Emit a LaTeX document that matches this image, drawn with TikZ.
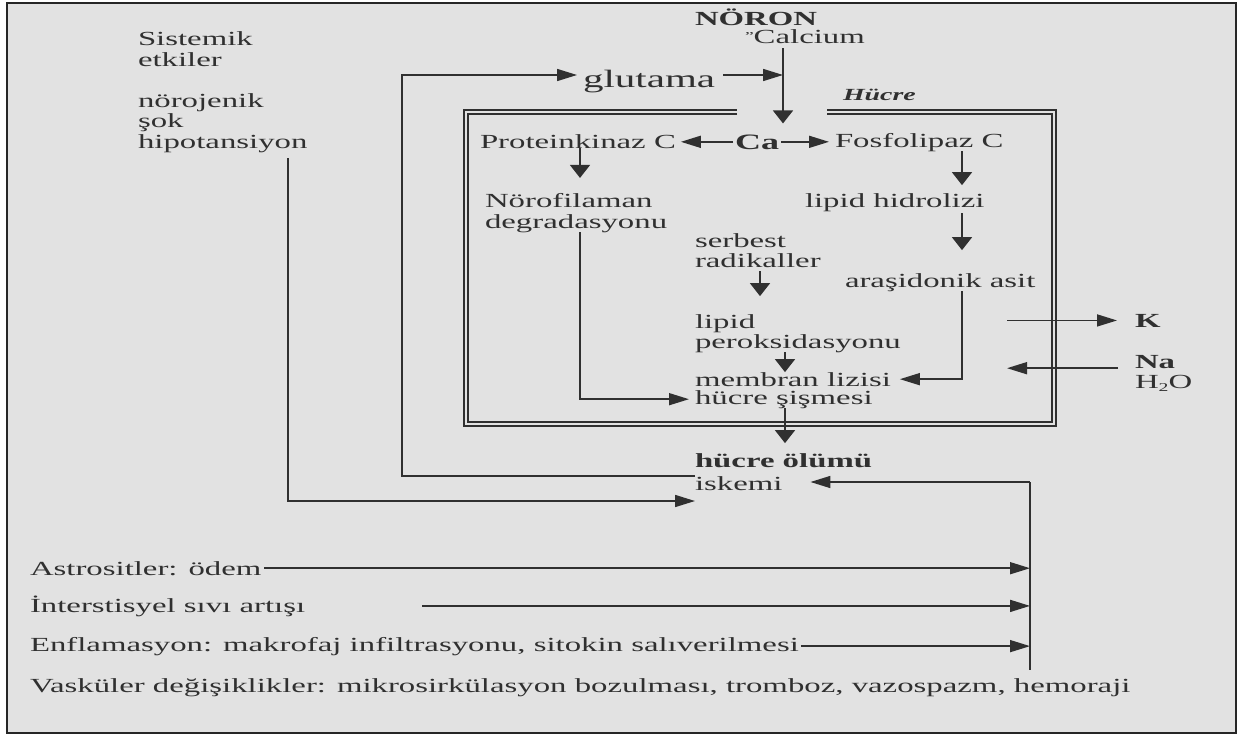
\documentclass[tikz,border=0pt]{standalone}
\usepackage{fontspec}
\setmainfont{Liberation Serif}[FakeStretch=1.64]
\usetikzlibrary{arrows.meta}
\definecolor{bg}{RGB}{226,226,226}
\definecolor{ink}{RGB}{48,48,48}
\tikzset{
  t/.style={anchor=base west, inner sep=0pt, outer sep=0pt, text=ink, font=\fontsize{20}{22}\selectfont},
  tb/.style={t, font=\fontsize{20}{22}\selectfont\bfseries},
  ln/.style={draw=ink, line width=1.6pt},
  harr/.style={ln, -{Triangle[length=20pt,width=12pt]}},
  varr/.style={ln, -{Triangle[length=13pt,width=20pt]}},
  cell/.style={draw=ink, line width=1.9pt, double=bg, double distance=2.4pt}
}
\begin{document}
\begin{tikzpicture}[x=1pt,y=-1pt]
\useasboundingbox (0,0) rectangle (1248,736);
\fill[white] (0,0) rectangle (1248,736);
\draw[line width=2pt, draw=black!85, fill=bg] (7,3) rectangle (1236,733);

% cell membrane
\draw[cell] (737,112) -- (466,112) -- (466,424) -- (1054,424) -- (1054,112) -- (827,112);

% helper coordinates
\coordinate (cj) at (783,75);
\coordinate (lp) at (402,475);
\coordinate (xa) at (580,0);
\coordinate (xb) at (962,0);
\coordinate (xc) at (760,0);
\coordinate (xd) at (785,0);
\coordinate (xh) at (288,0);
\coordinate (hy) at (0,501);
\coordinate (rv) at (1030,482);
\coordinate (rb) at (1030,670);
\coordinate (is) at (422,0);
\coordinate (ka) at (1007,0);

% left texts
\node[t] (sis) at (138,45) {Sistemik};
\node[t] (etk) at (138,66) {etkiler};
\node[t] (noj) at (138,107) {nörojenik};
\node[t] (sok) at (138,127) {şok};
\node[t] (hip) at (138,148) {hipotansiyon};

% top
\node[tb] (noron) at (695,25) {NÖRON};
\node[t] (calc) at (745,43) {\raisebox{3pt}{\fontsize{12}{12}\selectfont ”}Calcium};
\node[t, font=\fontsize{25}{27}\selectfont] (glu) at (583,87) {glutama};
\node[t, font=\fontsize{17}{19}\selectfont\bfseries\itshape] (hucre) at (843,100) {Hücre};

% inside cell
\node[t] (pkc) at (480,148) {Proteinkinaz C};
\node[t, font=\fontsize{22}{24}\selectfont\bfseries] (ca) at (735,149) {Ca};
\node[t] (fos) at (835,147) {Fosfolipaz C};
\node[t] (nof) at (485,207) {Nörofilaman};
\node[t] (deg) at (485,228) {degradasyonu};
\node[t] (lh) at (805,207) {lipid hidrolizi};
\node[t] (ser) at (695,247) {serbest};
\node[t] (rad) at (695,267) {radikaller};
\node[t] (ara) at (845,287) {araşidonik asit};
\node[t] (lip) at (695,328) {lipid};
\node[t] (per) at (695,348) {peroksidasyonu};
\node[t] (mem) at (695,386) {membran lizisi};
\node[t] (sis2) at (695,404) {hücre şişmesi};

\node[tb] (hol) at (695,467) {hücre ölümü};
\node[t] (isk) at (695,490) {iskemi};

% ions
\node[tb] (K) at (1135,327) {K};
\node[tb] (Na) at (1135,368) {Na};
\node[t] (h2o) at (1135,388) {H\raisebox{-3pt}{\fontsize{12}{12}\selectfont 2}O};

% bottom
\node[t] (ast) at (30,575) {Astrositler: ödem};
\node[t] (int) at (30,612) {İnterstisyel sıvı artışı};
\node[t] (enf) at (30,651) {Enflamasyon: makrofaj infiltrasyonu, sitokin salıverilmesi};
\node[t] (vas) at (30,692) {Vasküler değişiklikler: mikrosirkülasyon bozulması, tromboz, vazospazm, hemoraji};

% connectors
\draw[ln, shorten <=5pt] (calc.south -| cj) -- (cj);
\draw[varr, shorten >=11pt] (cj) -- (ca.north -| cj);
\draw[harr, shorten <=8pt] (glu.east |- cj) -- (cj);
\draw[harr, shorten >=6pt] (isk.north west) -- (lp |- isk.north west) -- (lp |- cj) -- (glu.west |- cj);
\draw[harr, shorten <=2pt, shorten >=5pt] (ca.west) -- (ca.west -| pkc.east);
\draw[harr, shorten <=2pt, shorten >=6pt] (ca.east) -- (ca.east -| fos.west);
\draw[varr, shorten >=15pt] (pkc.south -| xa) -- (nof.north -| xa);
\draw[harr, shorten >=6pt] (deg.south -| xa) -- (xa |- sis2.west) -- (sis2.west);
\draw[varr, shorten >=8pt] (fos.south -| xb) -- (lh.north -| xb);
\draw[varr, shorten <=2pt, shorten >=23pt] (lh.south -| xb) -- (ara.north -| xb);
\draw[harr, shorten >=9pt] (ara.south -| xb) -- (xb |- mem.east) -- (mem.east);
\draw[varr, shorten <=4pt, shorten >=18pt] (rad.south -| xc) -- (lip.north -| xc);
\draw[varr] (per.south -| xd) -- (mem.north -| xd);
\draw[varr, shorten >=10pt] (sis2.south -| xd) -- (hol.north -| xd);
\draw[harr, shorten <=6pt] (hip.south -| xh) -- (xh |- hy) -- (isk.west |- hy);
\draw[harr, shorten >=28pt] (rv) -- (isk.east |- rv);
\draw[ln] (rv) -- (rb);
\draw[harr, shorten <=3pt] (ast.east) -- (ast.east -| rv);
\draw[harr] (is |- int.east) -- (int.east -| rv);
\draw[harr, shorten <=2pt] (enf.east) -- (enf.east -| rv);
\draw[harr, shorten >=18pt] (ka |- K.west) -- (K.west);
\draw[harr, shorten <=17pt] (Na.south west) -- (ka |- Na.south west);
\end{tikzpicture}
\end{document}
